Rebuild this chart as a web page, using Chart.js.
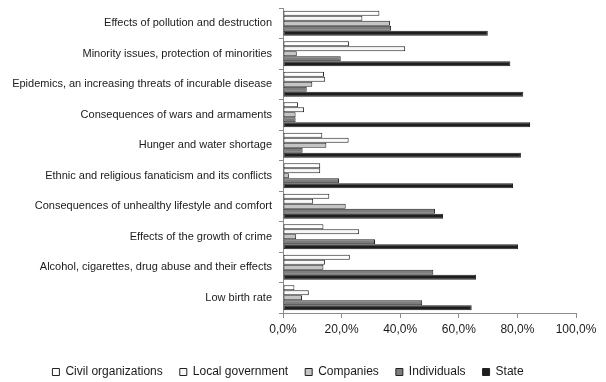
<!DOCTYPE html>
<html>
<head>
<meta charset="utf-8">
<script src="https://cdn.jsdelivr.net/npm/chart.js@4/dist/chart.umd.min.js"></script>
<style>
  html, body { margin: 0; padding: 0; background: #ffffff; }
  #wrap { width: 606px; height: 382px; position: relative; }
</style>
</head>
<body>
<div id="wrap"><canvas id="c" width="606" height="382"></canvas></div>
<script>
// Categories (top to bottom)
const categories = [
  'Effects of pollution and destruction',
  'Minority issues, protection of minorities',
  'Epidemics, an increasing threats of incurable disease',
  'Consequences of wars and armaments',
  'Hunger and water shortage',
  'Ethnic and religious fanaticism and its conflicts',
  'Consequences of unhealthy lifestyle and comfort',
  'Effects of the growth of crime',
  'Alcohol, cigarettes, drug abuse and their effects',
  'Low birth rate'
];

// Share of respondents (%) per responsible actor
const civilOrganizations = [32.9, 22.5, 14.0, 5.1, 13.4, 12.7, 15.8, 13.8, 22.8, 3.9];
const localGovernment    = [27.1, 41.7, 14.4, 7.2, 22.4, 12.7, 10.3, 26.0, 14.3, 8.8];
const companies          = [36.5, 4.7, 10.0, 4.3, 14.8, 2.0, 21.4, 4.5, 13.8, 6.5];
const individuals        = [36.9, 19.7, 8.1, 4.3, 6.7, 19.1, 51.9, 31.4, 51.3, 47.5];
const state              = [69.9, 77.6, 82.0, 84.3, 81.2, 78.5, 54.6, 80.2, 65.9, 64.4];

// Value axis ticks
const xTicks = [0, 20, 40, 60, 80, 100];

const seriesNames = ['Civil organizations', 'Local government', 'Companies', 'Individuals', 'State'];
const seriesFills = ['#ffffff', '#f7f7f7', '#c4c4c4', '#7d7d7d', '#1e1e1e'];
const seriesValues = [civilOrganizations, localGovernment, companies, individuals, state];

const axisGray = '#8c8c8c';
const textColor = '#1a1a1a';

const datasets = seriesNames.map((name, i) => ({
  label: name,
  data: seriesValues[i],
  backgroundColor: seriesFills[i],
  borderColor: '#222222',
  borderWidth: 1,
  borderSkipped: false,
  categoryPercentage: 0.82,
  barPercentage: 1.0
}));

Chart.defaults.font.family = '"Liberation Sans", Arial, sans-serif';
Chart.defaults.font.size = 12;
Chart.defaults.color = textColor;

new Chart(document.getElementById('c'), {
  type: 'bar',
  data: { labels: categories, datasets },
  options: {
    indexAxis: 'y',
    responsive: false,
    animation: false,
    devicePixelRatio: 1,
    layout: { padding: { top: 8, right: 30, left: 0, bottom: -6 } },
    plugins: {
      tooltip: { enabled: false },
      legend: {
        position: 'bottom',
        labels: {
          boxWidth: 7,
          boxHeight: 7,
          padding: 17,
          color: textColor,
          font: { size: 12 }
        }
      }
    },
    scales: {
      x: {
        type: 'linear',
        min: 0,
        max: 100,
        afterBuildTicks: (scale) => { scale.ticks = xTicks.map(v => ({ value: v })); },
        afterFit: (scale) => { scale.height = 36; scale.paddingLeft = 0; scale.paddingRight = 0; },
        ticks: {
          padding: 4,
          color: textColor,
          callback: (v) => Number(v).toFixed(1).replace('.', ',') + '%'
        },
        grid: { drawOnChartArea: false, drawTicks: true, tickLength: 5, color: axisGray },
        border: { color: axisGray, width: 1 }
      },
      y: {
        afterFit: (scale) => { scale.width = 283; scale.paddingTop = 0; scale.paddingBottom = 0; },
        ticks: { padding: 7, color: textColor, autoSkip: false, font: { size: 11 } },
        grid: { drawOnChartArea: false, drawTicks: true, tickLength: 4, color: axisGray, offset: true },
        border: { color: axisGray, width: 1 }
      }
    }
  }
});
</script>
</body>
</html>
